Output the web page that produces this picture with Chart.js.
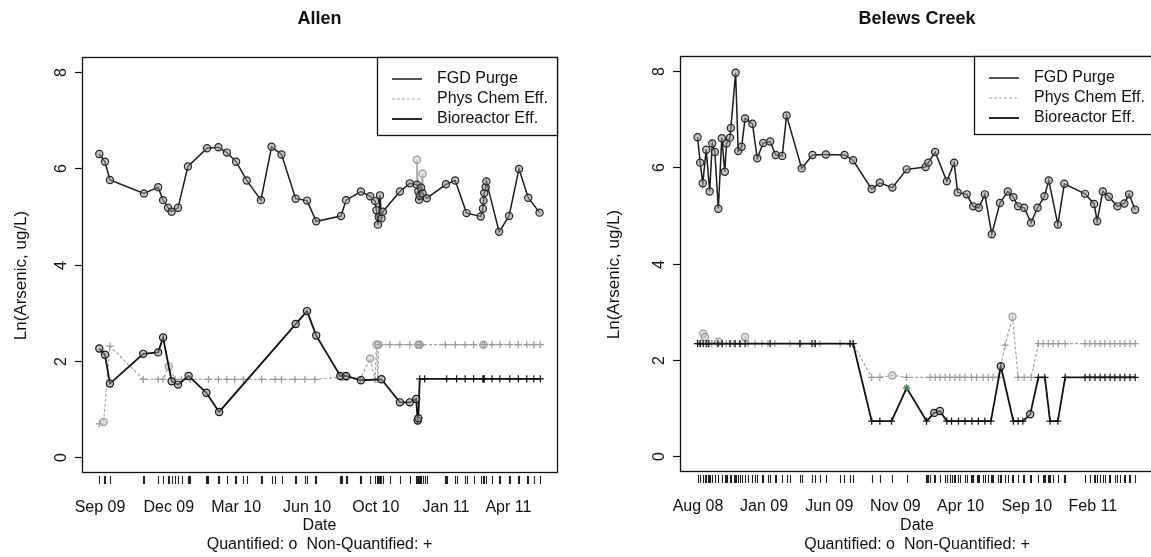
<!DOCTYPE html>
<html>
<head>
<meta charset="utf-8">
<title>Ln(Arsenic) - Allen and Belews Creek</title>
<script src="https://cdn.jsdelivr.net/npm/chart.js@4.4.1/dist/chart.umd.min.js"></script>
<style>
  html, body { margin: 0; padding: 0; background: #fff; }
  #wrap { position: relative; width: 1151px; height: 557px; overflow: hidden; background: #fff; }
  #wrap canvas { position: absolute; top: 0; }
</style>
</head>
<body>
<div id="wrap">
  <canvas id="allen" width="580" height="557" style="left:0"></canvas>
  <canvas id="belews" width="580" height="557" style="left:580px"></canvas>
</div>
<script>
// x values are days since the first tick label of each panel (Allen: Sep 2009, Belews Creek: Aug 2008)
// each row: [day, ln(arsenic ug/L), 'o' quantified | '+' non-quantified | '*' flagged | '' no marker]

// ---- Allen ----
const allenTickDays = [0, 97, 192, 292, 389, 488, 576];
const allenTickLabels = ['Sep 09', 'Dec 09', 'Mar 10', 'Jun 10', 'Oct 10', 'Jan 11', 'Apr 11'];

const allenFgd = [
  [-1,6.30,'o'],[7,6.14,'o'],[14,5.76,'o'],[62,5.48,'o'],[82,5.61,'o'],[89,5.34,'o'],[96,5.18,'o'],
  [101,5.10,'o'],[110,5.18,'o'],[124,6.04,'o'],[151,6.42,'o'],[167,6.44,'o'],[179,6.33,'o'],
  [192,6.14,'o'],[207,5.75,'o'],[227,5.34,'o'],[242,6.45,'o'],[256,6.29,'o'],[276,5.37,'o'],
  [292,5.33,'o'],[305,4.90,'o'],[340,5.01,'o'],[347,5.34,'o'],[368,5.52,'o'],[381,5.42,'o'],
  [388,5.32,'o'],[390,5.13,'o'],[392,4.83,'o'],[393,4.99,'o'],[395,5.44,'o'],[397,4.96,'o'],
  [399,5.10,'o'],[423,5.52,'o'],[437,5.69,'o'],[447,5.66,'o'],[449,5.52,'o'],[450,5.35,'o'],
  [451,5.43,'o'],[453,5.60,'o'],[455,5.48,'o'],[461,5.38,'o'],[488,5.67,'o'],[501,5.75,'o'],
  [517,5.07,'o'],[537,5.00,'o'],[540,5.16,'o'],[541,5.33,'o'],[542,5.49,'o'],[544,5.61,'o'],
  [545,5.73,'o'],[563,4.68,'o'],[577,5.01,'o'],[591,5.99,'o'],[604,5.39,'o'],[620,5.08,'o']
];
// grey duplicate FGD samples in Nov 10
const allenFgdGrey = [
  [446,5.66,''],[447,6.18,'o'],[449,5.50,''],[452,null,''],[453,5.60,''],[455,5.89,'o'],[456,5.45,'']
];
const allenPhys = [
  [-1,0.68,'+'],[5,0.72,'o'],[14,2.30,'+'],[61,1.61,'+'],[82,1.61,'+'],[89,1.61,'+'],[97,1.88,'o'],
  [106,1.61,'+'],[115,1.61,'+'],[127,1.61,'+'],[153,1.61,'+'],[167,1.61,'+'],[179,1.61,'+'],
  [190,1.61,'+'],[202,1.61,'+'],[228,1.61,'+'],[247,1.61,'+'],[256,1.61,'+'],[275,1.61,'+'],
  [289,1.61,'+'],[303,1.61,'+'],[341,1.66,'o'],[348,1.66,'o'],[367,1.61,'+'],[381,2.04,'o'],
  [388,1.61,'+'],[390,2.33,'o'],[392,1.61,'+'],[393,2.33,'o'],[395,2.33,'+'],[409,2.33,'+'],
  [423,2.33,'+'],[437,2.33,'+'],[449,2.33,'o'],[450,2.33,'+'],[451,2.33,'o'],[452,2.33,'+'],
  [487,2.33,'+'],[501,2.33,'+'],[515,2.33,'+'],[527,2.33,'+'],[540,2.33,'+'],[541,2.33,'o'],
  [542,2.33,'+'],[553,2.33,'+'],[564,2.33,'+'],[578,2.33,'+'],[590,2.33,'+'],[602,2.33,'+'],
  [612,2.33,'+'],[621,2.33,'+']
];
const allenBio = [
  [-1,2.25,'o'],[7,2.12,'o'],[14,1.52,'o'],[61,2.14,'o'],[82,2.17,'o'],[89,2.48,'o'],[101,1.57,'o'],
  [110,1.50,'o'],[125,1.68,'o'],[150,1.33,'o'],[168,0.93,'o'],[276,2.76,'o'],[292,3.03,'o'],
  [305,2.52,'o'],[339,1.68,'o'],[347,1.68,'o'],[368,1.59,'o'],[397,1.61,'o'],[423,1.13,'o'],
  [437,1.13,'o'],[446,1.20,'o'],[448,0.75,'o'],[449,0.80,'o'],[451,1.62,'+'],[458,1.62,'+'],
  [489,1.62,'+'],[503,1.62,'+'],[515,1.62,'+'],[527,1.62,'+'],[540,1.62,'+'],[541,1.62,'+'],
  [542,1.62,'+'],[553,1.62,'+'],[564,1.62,'+'],[578,1.62,'+'],[590,1.62,'+'],[602,1.62,'+'],
  [612,1.62,'+'],[621,1.62,'+']
];

// ---- Belews Creek ----
const belewsTickDays = [0, 153, 304, 457, 608, 761, 914];
const belewsTickLabels = ['Aug 08', 'Jan 09', 'Jun 09', 'Nov 09', 'Apr 10', 'Sep 10', 'Feb 11'];

const belewsFgd = [
  [-1,6.63,'o'],[5,6.10,'o'],[11,5.67,'o'],[19,6.37,'o'],[27,5.50,'o'],[33,6.50,'o'],[39,6.32,'o'],
  [47,5.14,'o'],[55,6.61,'o'],[62,5.91,'o'],[66,6.50,'o'],[74,6.62,'o'],[76,6.82,'o'],[87,7.97,'o'],
  [93,6.34,'o'],[101,6.43,'o'],[109,7.02,'o'],[126,6.91,'o'],[137,6.19,'o'],[151,6.51,'o'],
  [167,6.54,'o'],[180,6.26,'o'],[195,6.24,'o'],[205,7.08,'o'],[240,5.98,'o'],[265,6.26,'o'],
  [296,6.27,'o'],[339,6.26,'o'],[359,6.15,'o'],[402,5.55,'o'],[421,5.68,'o'],[450,5.58,'o'],
  [483,5.96,'o'],[527,6.01,'o'],[533,6.10,'o'],[549,6.32,'o'],[576,5.71,'o'],[593,6.10,'o'],
  [601,5.48,'o'],[622,5.44,'o'],[637,5.19,'o'],[650,5.16,'o'],[664,5.44,'o'],[680,4.61,'o'],
  [699,5.26,'o'],[717,5.50,'o'],[730,5.38,'o'],[741,5.19,'o'],[755,5.16,'o'],[771,4.85,'o'],
  [786,5.16,'o'],[802,5.40,'o'],[812,5.73,'o'],[833,4.81,'o'],[848,5.66,'o'],[896,5.45,'o'],
  [917,5.24,'o'],[924,4.88,'o'],[937,5.50,'o'],[951,5.39,'o'],[971,5.19,'o'],[987,5.25,'o'],
  [998,5.44,'o'],[1012,5.12,'o']
];
const belewsPhys = [
  [-1,2.33,'+'],[5,2.33,'+'],[12,2.54,'o'],[16,2.47,'o'],[23,2.33,'+'],[32,2.33,'+'],[47,2.37,'o'],
  [56,2.33,'+'],[65,2.33,'+'],[74,2.33,'+'],[83,2.33,'+'],[97,2.33,'+'],[109,2.47,'o'],[116,2.33,'+'],
  [132,2.33,'+'],[148,2.33,'+'],[162,2.33,'+'],[178,2.33,'+'],[213,2.33,'+'],[236,2.33,'+'],
  [271,2.33,'+'],[282,2.33,'+'],[329,2.33,'+'],[352,2.33,'+'],[359,2.33,'+'],[402,1.63,'+'],
  [421,1.63,'+'],[450,1.67,'o'],[483,1.63,'+'],[537,1.63,'+'],[549,1.63,'+'],[560,1.63,'+'],
  [572,1.63,'+'],[583,1.63,'+'],[595,1.63,'+'],[606,1.63,'+'],[618,1.63,'+'],[633,1.63,'+'],
  [645,1.63,'+'],[660,1.63,'+'],[672,1.63,'+'],[683,1.63,'+'],[695,1.63,'+'],[711,2.30,'+'],
  [728,2.89,'o'],[741,1.63,'+'],[755,1.63,'+'],[771,1.63,'+'],[788,2.33,'+'],[799,2.33,'+'],
  [811,2.33,'+'],[822,2.33,'+'],[834,2.33,'+'],[850,2.33,'+'],[896,2.33,'+'],[907,2.33,'+'],
  [919,2.33,'+'],[931,2.33,'+'],[942,2.33,'+'],[954,2.33,'+'],[965,2.33,'+'],[977,2.33,'+'],
  [988,2.33,'+'],[1000,2.33,'+'],[1012,2.33,'+']
];
const belewsBio = [
  [-1,2.33,'+'],[5,2.33,'+'],[12,2.33,'+'],[19,2.33,'+'],[25,2.33,'+'],[46,2.33,'+'],[56,2.33,'+'],
  [74,2.33,'+'],[86,2.33,'+'],[97,2.33,'+'],[109,2.33,'+'],[167,2.33,'+'],[236,2.33,'+'],
  [264,2.33,'+'],[271,2.33,'+'],[352,2.33,'+'],[359,2.33,'+'],[402,0.72,'+'],[421,0.72,'+'],
  [448,0.72,'+'],[483,1.41,'*'],[529,0.72,'+'],[547,0.89,'o'],[560,0.93,'o'],[576,0.72,'+'],
  [587,0.72,'+'],[603,0.72,'+'],[618,0.72,'+'],[634,0.72,'+'],[649,0.72,'+'],[664,0.72,'+'],
  [678,0.72,'+'],[701,1.86,'o'],[730,0.72,'+'],[741,0.72,'+'],[752,0.72,'+'],[769,0.86,'o'],
  [788,1.63,'+'],[803,1.63,'+'],[815,0.72,'+'],[833,0.72,'+'],[850,1.63,'+'],[896,1.63,'+'],
  [907,1.63,'+'],[919,1.63,'+'],[931,1.63,'+'],[942,1.63,'+'],[954,1.63,'+'],[965,1.63,'+'],
  [977,1.63,'+'],[988,1.63,'+'],[1000,1.63,'+'],[1012,1.63,'+']
];

const yTicks = [0, 2, 4, 6, 8];
const yTitle = 'Ln(Arsenic, ug/L)';
const xTitle = ['Date', 'Quantified: o  Non-Quantified: +'];
const seriesLabels = ['FGD Purge', 'Phys Chem Eff.', 'Bioreactor Eff.'];

const FONT = "'Liberation Sans', Arial, Helvetica, sans-serif";
Chart.defaults.font.family = FONT;
Chart.defaults.color = '#111';

const toPoints = rows => rows.map(r => ({ x: r[0], y: r[1], q: r[2] }));

// marker helpers, R style: o = open circle, + = cross
const markStyle = ctx => {
  const q = ctx.raw ? ctx.raw.q : 'o';
  return q === '+' ? 'cross' : q === '*' ? 'star' : 'circle';
};
const markRadius = ctx => (ctx.raw && ctx.raw.q === '') ? 0 : 3.6;

function makeDatasets(fgd, phys, bio, extraGrey) {
  const sets = [
    {
      label: seriesLabels[0], legendRow: 0, data: toPoints(fgd),
      borderColor: '#1c1c1c', borderWidth: 1.5,
      pointBorderColor: '#262626', pointBackgroundColor: 'rgba(150,150,150,0.55)'
    },
    {
      label: seriesLabels[2], legendRow: 2, data: toPoints(bio),
      borderColor: '#111', borderWidth: 1.8,
      pointBorderColor: ctx => (ctx.raw && ctx.raw.q === '*') ? '#3f7f46' : '#151515',
      pointBackgroundColor: 'rgba(150,150,150,0.55)'
    },
    {
      label: seriesLabels[1], legendRow: 1, data: toPoints(phys),
      borderColor: '#a3a3a3', borderWidth: 1.2, borderDash: [3, 2],
      pointBorderColor: '#9a9a9a', pointBackgroundColor: 'rgba(200,200,200,0.5)'
    }
  ];
  if (extraGrey) {
    sets.push({
      label: '', data: toPoints(extraGrey),
      borderColor: '#a3a3a3', borderWidth: 1.3,
      pointBorderColor: '#999', pointBackgroundColor: 'rgba(210,210,210,0.6)'
    });
  }
  sets.forEach(s => {
    s.tension = 0;
    s.spanGaps = false;
    s.pointStyle = markStyle;
    s.pointRadius = markRadius;
    s.pointBorderWidth = 1.2;
  });
  return sets;
}

// draws the R-like frame: box, y axis, rug of sample dates and the boxed legend
const rFrame = {
  id: 'rFrame',
  afterDraw(chart, args, opts) {
    const { ctx, chartArea: a, scales } = chart;
    const xs = scales.x, ys = scales.y;
    ctx.save();

    // plot box
    ctx.strokeStyle = '#111';
    ctx.lineWidth = 1.3;
    ctx.strokeRect(Math.round(a.left) + 0.5, Math.round(a.top) + 0.5, Math.round(a.right - a.left), Math.round(a.bottom - a.top));

    // y ticks and labels, labels parallel to the axis
    ctx.fillStyle = '#111';
    ctx.font = '16px ' + FONT;
    ctx.textAlign = 'center';
    ctx.textBaseline = 'middle';
    ctx.lineWidth = 1.2;
    yTicks.forEach(v => {
      const py = Math.round(ys.getPixelForValue(v)) + 0.5;
      ctx.beginPath();
      ctx.moveTo(a.left - 7, py);
      ctx.lineTo(a.left, py);
      ctx.stroke();
      ctx.save();
      ctx.translate(a.left - 20, py);
      ctx.rotate(-Math.PI / 2);
      ctx.fillText(String(v), 0, 0);
      ctx.restore();
    });

    // y axis title
    ctx.save();
    ctx.font = '17px ' + FONT;
    ctx.translate(a.left - opts.titleDx, (a.top + a.bottom) / 2 + 11);
    ctx.rotate(-Math.PI / 2);
    ctx.fillText(yTitle, 0, 0);
    ctx.restore();

    // rug of sampling dates
    const days = new Set();
    chart.data.datasets.forEach(ds => ds.data.forEach(p => { if (p.y !== null) days.add(p.x); }));
    ctx.strokeStyle = '#222';
    ctx.lineWidth = 1.1;
    ctx.beginPath();
    days.forEach(d => {
      const px = Math.round(xs.getPixelForValue(d)) + 0.5;
      ctx.moveTo(px, a.bottom + 4);
      ctx.lineTo(px, a.bottom + 12);
    });
    ctx.stroke();

    // legend box in the top right corner
    const bw = 180, bh = 78;
    const bx = a.right - bw, by = a.top;
    ctx.fillStyle = '#fff';
    ctx.fillRect(bx, by, bw, bh);
    ctx.strokeStyle = '#111';
    ctx.lineWidth = 1.3;
    ctx.strokeRect(Math.round(bx) + 0.5, Math.round(by) + 0.5, bw, bh);
    ctx.textAlign = 'left';
    ctx.font = '16px ' + FONT;
    chart.data.datasets.filter(ds => ds.legendRow !== undefined).forEach(ds => {
      const ly = by + 22 + ds.legendRow * 20;
      ctx.strokeStyle = ds.borderColor;
      ctx.lineWidth = ds.borderWidth;
      ctx.setLineDash(ds.borderDash || []);
      ctx.beginPath();
      ctx.moveTo(bx + 15, ly);
      ctx.lineTo(bx + 45, ly);
      ctx.stroke();
      ctx.setLineDash([]);
      ctx.fillStyle = '#111';
      ctx.fillText(ds.label, bx + 60, ly);
    });
    ctx.restore();
  }
};

function makeChart(id, opts) {
  return new Chart(document.getElementById(id), {
    type: 'line',
    data: { datasets: makeDatasets(opts.fgd, opts.phys, opts.bio, opts.grey) },
    options: {
      responsive: false,
      animation: false,
      events: [],
      devicePixelRatio: 1,
      layout: { padding: { left: 0, right: opts.padRight, top: 0, bottom: 0 } },
      plugins: {
        legend: { display: false },
        tooltip: { enabled: false },
        title: {
          display: true, text: opts.title, fullSize: false,
          font: { size: 18, weight: 'bold' }, color: '#111',
          padding: { top: 8, bottom: opts.top - 8 - 21.6 }
        },
        rFrame: { titleDx: opts.yTitleDx }
      },
      scales: {
        x: {
          type: 'linear', min: opts.xMin, max: opts.xMax,
          grid: { display: false, drawTicks: false },
          border: { display: false },
          afterBuildTicks: s => { s.ticks = opts.tickDays.map(v => ({ value: v })); },
          afterFit: s => { s.height = 557 - opts.bottom; s.paddingLeft = 0; s.paddingRight = 0; },
          ticks: {
            autoSkip: false, maxRotation: 0, minRotation: 0, padding: 26,
            font: { size: 16 }, color: '#111',
            callback: (v, i) => opts.tickLabels[i]
          },
          title: { display: true, text: xTitle, font: { size: 16 }, color: '#111', padding: { top: 0, bottom: 3 } }
        },
        y: {
          min: -0.32, max: 8.32,
          afterBuildTicks: s => { s.ticks = yTicks.map(v => ({ value: v })); },
          afterFit: s => { s.width = opts.left; s.paddingTop = 0; s.paddingBottom = 0; },
          grid: { display: false },
          border: { display: false },
          ticks: { display: false }
        }
      }
    },
    plugins: [rFrame]
  });
}

makeChart('allen', {
  title: 'Allen', fgd: allenFgd, phys: allenPhys, bio: allenBio, grey: allenFgdGrey,
  tickDays: allenTickDays, tickLabels: allenTickLabels,
  xMin: -25.4, xMax: 644.6, left: 82, padRight: 23, top: 57, bottom: 472, yTitleDx: 61
});

makeChart('belews', {
  title: 'Belews Creek', fgd: belewsFgd, phys: belewsPhys, bio: belewsBio, grey: null,
  tickDays: belewsTickDays, tickLabels: belewsTickLabels,
  xMin: -41.7, xMax: 1055.6, left: 100, padRight: 6, top: 56, bottom: 471, yTitleDx: 66
});
</script>
</body>
</html>
